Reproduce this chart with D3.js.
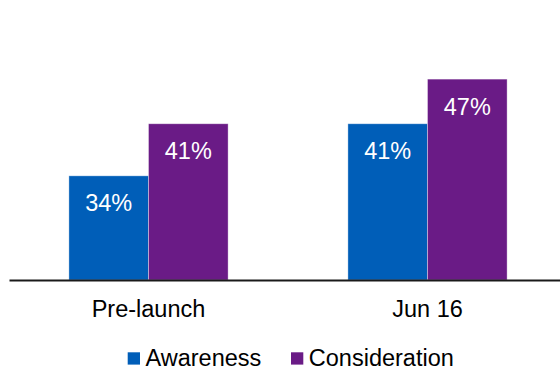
<!DOCTYPE html>
<html>
<head>
<meta charset="utf-8">
<script src="https://cdn.jsdelivr.net/npm/d3@7"></script>
<style>
  html, body { margin: 0; padding: 0; background: #fff; }
  svg { display: block; font-family: "Liberation Sans", Arial, sans-serif; }
</style>
</head>
<body>
<svg id="chart" width="560" height="369"></svg>
<script>
// Survey waves and measured shares (%)
const categories = ["Pre-launch", "Jun 16"];
const seriesNames = ["Awareness", "Consideration"];
const awareness = [34, 41];
const consideration = [41, 47];
const seriesColors = ["#005EB8", "#6A1B86"];

const seriesValues = [awareness, consideration];
const rows = categories.map((c, i) => ({
  category: c,
  values: seriesNames.map((s, j) => ({ series: s, value: seriesValues[j][i] }))
}));

const svg = d3.select("#chart");

const x0 = d3.scaleBand().domain(categories).range([9, 567]).padding(0);
const x1 = d3.scaleBand().domain(seriesNames).range([0, x0.bandwidth()])
  .paddingInner(0).paddingOuter(0.7525);
const y = d3.scaleLinear().domain([20, 50]).range([280, 56.8]);
const color = d3.scaleOrdinal().domain(seriesNames).range(seriesColors);

// Bars
const groups = svg.append("g").selectAll("g")
  .data(rows).join("g")
  .attr("transform", d => `translate(${x0(d.category)},0)`);

groups.selectAll("rect")
  .data(d => d.values).join("rect")
  .attr("x", d => x1(d.series))
  .attr("y", d => y(d.value))
  .attr("width", x1.bandwidth())
  .attr("height", d => y.range()[0] - y(d.value))
  .attr("fill", d => color(d.series))
  .attr("stroke", "#ffffff")
  .attr("stroke-opacity", 0.45)
  .attr("stroke-width", 0.8);

// Value labels inside the bar tops
groups.selectAll("text.value")
  .data(d => d.values).join("text")
  .attr("class", "value")
  .attr("x", d => x1(d.series) + x1.bandwidth() / 2)
  .attr("y", d => y(d.value) + 35.4)
  .attr("text-anchor", "middle")
  .attr("fill", "#ffffff")
  .attr("font-size", 23.5)
  .text(d => d.value + "%");

// Category axis along the baseline
const axis = svg.append("g")
  .attr("transform", `translate(0,${y.range()[0]})`)
  .call(d3.axisBottom(x0).tickSize(0).tickSizeOuter(0));
axis.select(".domain").attr("stroke", "#1a1a1a").attr("stroke-width", 1.8);
axis.selectAll(".tick text")
  .attr("y", 37.3)
  .attr("dy", 0)
  .attr("fill", "#000")
  .attr("font-size", 23.5)
  .attr("font-family", "Liberation Sans, Arial, sans-serif");

// Legend
const legendX = d3.scaleOrdinal().domain(seriesNames).range([127.7, 291]);
const legend = svg.append("g").selectAll("g")
  .data(seriesNames).join("g")
  .attr("transform", d => `translate(${legendX(d)},352.3)`);
legend.append("rect")
  .attr("width", 12.3).attr("height", 12.3)
  .attr("fill", d => color(d));
legend.append("text")
  .attr("x", 17.8)
  .attr("y", 13.4)
  .attr("fill", "#000")
  .attr("font-size", 23.5)
  .text(d => d);
</script>
</body>
</html>
